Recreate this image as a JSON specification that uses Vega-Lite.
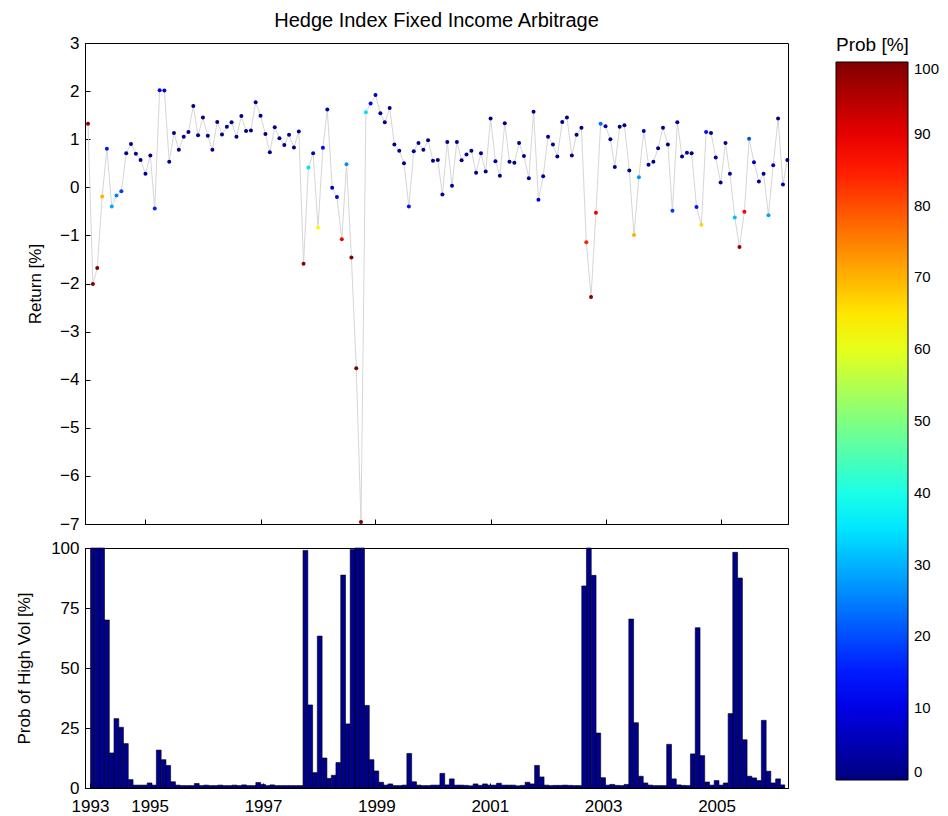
{
"$schema": "https://vega.github.io/schema/vega-lite/v6.json",
"padding": {"left": 15, "top": 10, "right": 5, "bottom": 0},
"background": "white",
"config": {
  "font": "Liberation Sans",
  "view": {"stroke": "black", "strokeWidth": 1},
  "axis": {"labelFont": "Liberation Sans", "labelFontSize": 17, "labelColor": "black", "titleFont": "Liberation Sans", "titleFontSize": 17, "titleFontWeight": "normal", "titleColor": "black", "domainColor": "black", "tickColor": "black", "tickSize": -5, "grid": false, "labelPadding": 11, "labelFlush": false, "labelOverlap": false, "labelBound": false},
  "concat": {"spacing": 5}
},
"datasets": {"d": [
{"d":"1994-01-01","r":1.32,"p":100},{"d":"1994-02-01","r":-2.01,"p":100},{"d":"1994-03-01","r":-1.68,"p":100},{"d":"1994-04-01","r":-0.19,"p":70},{"d":"1994-05-01","r":0.80,"p":14.6},{"d":"1994-06-01","r":-0.40,"p":28.9},{"d":"1994-07-01","r":-0.17,"p":25.3},{"d":"1994-08-01","r":-0.08,"p":18.5},{"d":"1994-09-01","r":0.71,"p":3.5},{"d":"1994-10-01","r":0.90,"p":1.2},{"d":"1994-11-01","r":0.70,"p":1.2},{"d":"1994-12-01","r":0.57,"p":1.2},
{"d":"1995-01-01","r":0.28,"p":2.1},{"d":"1995-02-01","r":0.66,"p":1.2},{"d":"1995-03-01","r":-0.44,"p":15.8},{"d":"1995-04-01","r":2.02,"p":11.8},{"d":"1995-05-01","r":2.01,"p":9.4},{"d":"1995-06-01","r":0.53,"p":2.6},{"d":"1995-07-01","r":1.13,"p":1.2},{"d":"1995-08-01","r":0.78,"p":1.0},{"d":"1995-09-01","r":1.05,"p":1.0},{"d":"1995-10-01","r":1.15,"p":1.0},{"d":"1995-11-01","r":1.69,"p":1.9},{"d":"1995-12-01","r":1.08,"p":1.0},
{"d":"1996-01-01","r":1.45,"p":1.2},{"d":"1996-02-01","r":1.07,"p":1.0},{"d":"1996-03-01","r":0.78,"p":1.0},{"d":"1996-04-01","r":1.36,"p":1.2},{"d":"1996-05-01","r":1.10,"p":1.0},{"d":"1996-06-01","r":1.26,"p":1.0},{"d":"1996-07-01","r":1.35,"p":1.2},{"d":"1996-08-01","r":1.05,"p":1.0},{"d":"1996-09-01","r":1.48,"p":1.3},{"d":"1996-10-01","r":1.17,"p":1.0},{"d":"1996-11-01","r":1.18,"p":1.0},{"d":"1996-12-01","r":1.77,"p":2.3},
{"d":"1997-01-01","r":1.49,"p":1.5},{"d":"1997-02-01","r":1.11,"p":1.0},{"d":"1997-03-01","r":0.73,"p":1.3},{"d":"1997-04-01","r":1.25,"p":1.0},{"d":"1997-05-01","r":1.02,"p":1.0},{"d":"1997-06-01","r":0.88,"p":1.0},{"d":"1997-07-01","r":1.09,"p":1.0},{"d":"1997-08-01","r":0.83,"p":1.0},{"d":"1997-09-01","r":1.16,"p":1.0},{"d":"1997-10-01","r":-1.59,"p":99},{"d":"1997-11-01","r":0.41,"p":34.6},{"d":"1997-12-01","r":0.71,"p":6.4},
{"d":"1998-01-01","r":-0.84,"p":63.3},{"d":"1998-02-01","r":0.82,"p":12.5},{"d":"1998-03-01","r":1.62,"p":4.0},{"d":"1998-04-01","r":-0.01,"p":5.3},{"d":"1998-05-01","r":-0.20,"p":10.6},{"d":"1998-06-01","r":-1.08,"p":88.7},{"d":"1998-07-01","r":0.48,"p":26.7},{"d":"1998-08-01","r":-1.46,"p":99.4},{"d":"1998-09-01","r":-3.76,"p":100},{"d":"1998-10-01","r":-6.96,"p":100},{"d":"1998-11-01","r":1.56,"p":34.4},{"d":"1998-12-01","r":1.74,"p":11.8},
{"d":"1999-01-01","r":1.92,"p":7.1},{"d":"1999-02-01","r":1.54,"p":2.4},{"d":"1999-03-01","r":1.35,"p":1.2},{"d":"1999-04-01","r":1.65,"p":1.7},{"d":"1999-05-01","r":0.89,"p":1.0},{"d":"1999-06-01","r":0.76,"p":1.0},{"d":"1999-07-01","r":0.50,"p":1.2},{"d":"1999-08-01","r":-0.40,"p":14.4},{"d":"1999-09-01","r":0.75,"p":2.6},{"d":"1999-10-01","r":0.92,"p":1.2},{"d":"1999-11-01","r":0.78,"p":1.0},{"d":"1999-12-01","r":0.98,"p":1.0},
{"d":"2000-01-01","r":0.55,"p":1.2},{"d":"2000-02-01","r":0.57,"p":1.2},{"d":"2000-03-01","r":-0.15,"p":6.1},{"d":"2000-04-01","r":0.94,"p":1.3},{"d":"2000-05-01","r":0.03,"p":3.8},{"d":"2000-06-01","r":0.94,"p":1.2},{"d":"2000-07-01","r":0.56,"p":1.2},{"d":"2000-08-01","r":0.68,"p":1.1},{"d":"2000-09-01","r":0.76,"p":0.9},{"d":"2000-10-01","r":0.30,"p":1.7},{"d":"2000-11-01","r":0.71,"p":1.1},{"d":"2000-12-01","r":0.33,"p":1.7},
{"d":"2001-01-01","r":1.43,"p":1.2},{"d":"2001-02-01","r":0.54,"p":1.2},{"d":"2001-03-01","r":0.24,"p":2.0},{"d":"2001-04-01","r":1.33,"p":1.2},{"d":"2001-05-01","r":0.53,"p":1.2},{"d":"2001-06-01","r":0.51,"p":1.2},{"d":"2001-07-01","r":0.92,"p":0.9},{"d":"2001-08-01","r":0.65,"p":1.1},{"d":"2001-09-01","r":0.19,"p":2.4},{"d":"2001-10-01","r":1.57,"p":1.7},{"d":"2001-11-01","r":-0.26,"p":9.4},{"d":"2001-12-01","r":0.23,"p":4.6},
{"d":"2002-01-01","r":1.05,"p":1.2},{"d":"2002-02-01","r":0.89,"p":1.0},{"d":"2002-03-01","r":0.64,"p":1.1},{"d":"2002-04-01","r":1.36,"p":1.1},{"d":"2002-05-01","r":1.45,"p":1.2},{"d":"2002-06-01","r":0.66,"p":1.1},{"d":"2002-07-01","r":1.09,"p":1.0},{"d":"2002-08-01","r":1.24,"p":1.0},{"d":"2002-09-01","r":-1.14,"p":84.2},{"d":"2002-10-01","r":-2.28,"p":100},{"d":"2002-11-01","r":-0.53,"p":88.6},{"d":"2002-12-01","r":1.32,"p":22.9},
{"d":"2003-01-01","r":1.27,"p":4.3},{"d":"2003-02-01","r":1.00,"p":1.2},{"d":"2003-03-01","r":0.42,"p":1.5},{"d":"2003-04-01","r":1.26,"p":1.1},{"d":"2003-05-01","r":1.29,"p":1.0},{"d":"2003-06-01","r":0.35,"p":1.5},{"d":"2003-07-01","r":-0.99,"p":70.4},{"d":"2003-08-01","r":0.21,"p":27.2},{"d":"2003-09-01","r":1.17,"p":4.9},{"d":"2003-10-01","r":0.47,"p":2.1},{"d":"2003-11-01","r":0.53,"p":1.2},{"d":"2003-12-01","r":0.81,"p":1.0},
{"d":"2004-01-01","r":1.24,"p":1.0},{"d":"2004-02-01","r":0.89,"p":1.0},{"d":"2004-03-01","r":-0.49,"p":18.2},{"d":"2004-04-01","r":1.35,"p":3.8},{"d":"2004-05-01","r":0.64,"p":1.3},{"d":"2004-06-01","r":0.72,"p":1.1},{"d":"2004-07-01","r":0.71,"p":1.0},{"d":"2004-08-01","r":-0.41,"p":14.2},{"d":"2004-09-01","r":-0.78,"p":66.8},{"d":"2004-10-01","r":1.15,"p":13.5},{"d":"2004-11-01","r":1.13,"p":2.5},{"d":"2004-12-01","r":0.62,"p":1.2},
{"d":"2005-01-01","r":0.10,"p":3.1},{"d":"2005-02-01","r":0.92,"p":1.2},{"d":"2005-03-01","r":0.28,"p":2.1},{"d":"2005-04-01","r":-0.63,"p":31},{"d":"2005-05-01","r":-1.24,"p":98.2},{"d":"2005-06-01","r":-0.51,"p":87.5},{"d":"2005-07-01","r":1.01,"p":20.1},{"d":"2005-08-01","r":0.52,"p":4.9},{"d":"2005-09-01","r":0.12,"p":4.2},{"d":"2005-10-01","r":0.28,"p":3.1},{"d":"2005-11-01","r":-0.58,"p":28.2},{"d":"2005-12-01","r":0.46,"p":7.0},
{"d":"2006-01-01","r":1.43,"p":2.1},{"d":"2006-02-01","r":0.06,"p":3.8},{"d":"2006-03-01","r":0.57,"p":1.3}
]},
"vconcat": [
  {
    "width": 703, "height": 481,
    "title": {"text": "Hedge Index Fixed Income Arbitrage", "fontSize": 20, "fontWeight": "normal", "font": "Liberation Sans", "color": "black", "anchor": "middle", "frame": "group", "offset": 3},
    "data": {"name": "d"},
    "encoding": {
      "x": {"field": "d", "type": "temporal", "scale": {"domain": [{"year": 1993, "month": 12, "date": 13}, {"year": 2006, "month": 3, "date": 5}], "nice": false},
            "axis": {"values": [{"year": 1993, "month": 12, "date": 13}, {"year": 1995, "month": 1, "date": 1}, {"year": 1997, "month": 1, "date": 1}, {"year": 1999, "month": 1, "date": 1}, {"year": 2001, "month": 1, "date": 1}, {"year": 2003, "month": 1, "date": 1}, {"year": 2005, "month": 1, "date": 1}], "labels": false, "title": null}},
      "y": {"field": "r", "type": "quantitative", "scale": {"domain": [-7, 3], "nice": false, "zero": false},
            "axis": {"values": [-7, -6, -5, -4, -3, -2, -1, 0, 1, 2, 3], "title": "Return [%]", "titlePadding": 15}}
    },
    "layer": [
      {"mark": {"type": "line", "color": "#d6d6d6", "strokeWidth": 1}},
      {"mark": {"type": "point", "filled": true, "size": 16, "opacity": 1, "shape": "circle"},
       "encoding": {"color": {"field": "p", "type": "quantitative",
          "scale": {"domain": [0, 100], "range": ["#000080", "#0000ff", "#0080ff", "#00ffff", "#80ff80", "#ffff00", "#ff8000", "#ff0000", "#800000"], "interpolate": "rgb"},
          "legend": {"title": "Prob [%]", "orient": "none", "legendX": 751, "legendY": -7, "direction": "vertical", "gradientLength": 718, "gradientThickness": 72, "values": [0, 10, 20, 30, 40, 50, 60, 70, 80, 90, 100], "labelFontSize": 15, "labelFont": "Liberation Sans", "labelColor": "black", "titleFontSize": 19, "titleFont": "Liberation Sans", "titleFontWeight": "normal", "titleColor": "black", "titleAnchor": "start", "titlePadding": 7, "gradientStrokeColor": "black", "gradientStrokeWidth": 1, "labelOffset": 6}}}}
    ]
  },
  {
    "width": 703, "height": 240,
    "data": {"name": "d"},
    "mark": {"type": "bar", "width": 4.8, "color": "#00008f", "stroke": "black", "strokeWidth": 0.6},
    "encoding": {
      "x": {"field": "d", "type": "temporal", "scale": {"domain": [{"year": 1993, "month": 12, "date": 13}, {"year": 2006, "month": 3, "date": 5}], "nice": false},
            "axis": {"values": [{"year": 1993, "month": 12, "date": 13}, {"year": 1995, "month": 1, "date": 1}, {"year": 1997, "month": 1, "date": 1}, {"year": 1999, "month": 1, "date": 1}, {"year": 2001, "month": 1, "date": 1}, {"year": 2003, "month": 1, "date": 1}, {"year": 2005, "month": 1, "date": 1}], "format": "%Y", "title": null, "labelPadding": 15}},
      "y": {"field": "p", "type": "quantitative", "scale": {"domain": [0, 100], "nice": false, "clamp": true},
            "axis": {"values": [0, 25, 50, 75, 100], "title": "Prob of High Vol [%]", "titlePadding": 17}}
    }
  }
]
}
